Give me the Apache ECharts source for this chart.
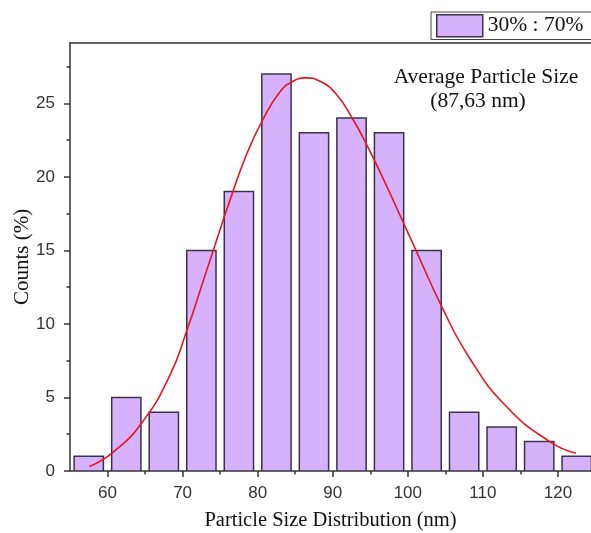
<!DOCTYPE html>
<html>
<head>
<meta charset="utf-8">
<script src="https://cdn.jsdelivr.net/npm/echarts@6/dist/echarts.min.js"></script>
<style>
html,body{margin:0;padding:0;background:#fff;}
#chart{width:591px;height:533px;}
</style>
</head>
<body>
<div id="chart"></div>
<script>
// ---- data ----
const xTicks = [60, 70, 80, 90, 100, 110, 120];
const xMinorTicks = [65, 75, 85, 95, 105, 115];
const yTicks = [0, 5, 10, 15, 20, 25];
const yMinorTicks = [2.5, 7.5, 12.5, 17.5, 22.5, 27.5];
const binCenters = [57.5, 62.5, 67.5, 72.5, 77.5, 82.5, 87.5, 92.5, 97.5, 102.5, 107.5, 112.5, 117.5, 122.5];
const counts = [1, 5, 4, 15, 19, 27, 23, 24, 23, 15, 4, 3, 2, 1];
const fitX = [57.6, 60.8, 64.6, 68.3, 70.6, 72.8, 74.6, 76.3, 78.5, 80.7, 83.0, 84.7, 86.3, 88.3, 90.5, 92.7, 94.5, 96.7, 98.5, 101.0, 104.5, 108.2, 113.1, 118.9, 122.4];
const fitY = [0.3, 1.3, 3.3, 6.5, 9.6, 13.0, 15.8, 18.4, 21.5, 23.9, 25.8, 26.5, 26.73, 26.5, 25.6, 23.9, 22.2, 19.9, 17.9, 15.1, 11.2, 7.7, 4.4, 2.0, 1.2];
const legendName = '30% : 70%';
const noteLine1 = 'Average Particle Size';
const noteLine2 = '(87,63 nm)';
const xTitle = 'Particle Size Distribution (nm)';
const yTitle = 'Counts (%)';

// ---- styles ----
const BAR_HALF = 1.95;
const barFill = '#d6b2fd';
const barStroke = '#3a3348';
const axisColor = '#333333';
const serif = '"Liberation Serif", "Times New Roman", serif';
const sans = '"Liberation Sans", Arial, sans-serif';
const X_MIN = 55, X_MAX = 124.4, Y_MIN = 0, Y_MAX = 29.1;

const barData = binCenters.map((c, i) => [c, counts[i]]);
const fitData = fitX.map((x, i) => [x, fitY[i]]);

const gridPos = {left: 70, right: 0, top: 43, bottom: 62, containLabel: false, outerBoundsMode: 'none'};

const chart = echarts.init(document.getElementById('chart'), null, {renderer: 'canvas'});
chart.setOption({
  animation: false,
  backgroundColor: '#ffffff',
  grid: [Object.assign({}, gridPos), Object.assign({}, gridPos)],
  legend: {
    left: 431, top: 12,
    orient: 'horizontal',
    data: [{name: legendName, icon: 'rect', itemStyle: {color: barFill, borderColor: barStroke, borderWidth: 1.5}}],
    itemWidth: 46, itemHeight: 22,
    padding: [2, 12, 2, 5],
    borderColor: '#444', borderWidth: 1,
    textStyle: {fontFamily: serif, fontSize: 21.5, color: '#111', lineHeight: 22}
  },
  graphic: [
    {type: 'text', x: 486, y: 77, style: {text: noteLine1, font: '21.5px ' + serif, fill: '#111', textAlign: 'center', textVerticalAlign: 'middle'}},
    {type: 'text', x: 478, y: 101, style: {text: noteLine2, font: '21.5px ' + serif, fill: '#111', textAlign: 'center', textVerticalAlign: 'middle'}}
  ],
  xAxis: [
    {
      gridIndex: 0, type: 'value', position: 'bottom', min: X_MIN, max: X_MAX,
      name: xTitle, nameLocation: 'middle', nameGap: 39, nameMoveOverlap: false,
      nameTextStyle: {fontFamily: serif, fontSize: 20.5, color: '#111'},
      axisLine: {show: true, onZero: false, lineStyle: {color: axisColor, width: 1.5}},
      axisTick: {show: true, length: 6, customValues: xTicks, lineStyle: {color: axisColor, width: 1.5}},
      axisLabel: {show: true, customValues: xTicks, margin: 14, fontFamily: sans, fontSize: 17, color: '#333'},
      splitLine: {show: false}
    },
    {
      gridIndex: 0, type: 'value', position: 'top', min: X_MIN, max: X_MAX,
      axisLine: {show: true, onZero: false, lineStyle: {color: axisColor, width: 1.5}},
      axisTick: {show: false}, axisLabel: {show: false}, splitLine: {show: false}
    },
    {
      gridIndex: 1, type: 'value', position: 'bottom', min: X_MIN, max: X_MAX,
      axisLine: {show: false, onZero: false},
      axisTick: {show: true, length: 3.5, customValues: xMinorTicks, lineStyle: {color: axisColor, width: 1.5}},
      axisLabel: {show: false}, splitLine: {show: false}
    }
  ],
  yAxis: [
    {
      gridIndex: 0, type: 'value', position: 'left', min: Y_MIN, max: Y_MAX,
      name: yTitle, nameLocation: 'middle', nameGap: 37, nameRotate: 90, nameMoveOverlap: false,
      nameTextStyle: {fontFamily: serif, fontSize: 21, color: '#111'},
      axisLine: {show: true, onZero: false, lineStyle: {color: axisColor, width: 1.5}},
      axisTick: {show: true, length: 6, customValues: yTicks, lineStyle: {color: axisColor, width: 1.5}},
      axisLabel: {show: true, customValues: yTicks, margin: 15, fontFamily: sans, fontSize: 17, color: '#333'},
      splitLine: {show: false}
    },
    {
      gridIndex: 1, type: 'value', position: 'left', min: Y_MIN, max: Y_MAX,
      axisLine: {show: false, onZero: false},
      axisTick: {show: true, length: 3.5, customValues: yMinorTicks, lineStyle: {color: axisColor, width: 1.5}},
      axisLabel: {show: false}, splitLine: {show: false}
    }
  ],
  series: [
    {
      name: legendName,
      type: 'custom',
      xAxisIndex: 0, yAxisIndex: 0,
      itemStyle: {color: barFill, borderColor: barStroke, borderWidth: 1.5},
      data: barData,
      encode: {x: 0, y: 1},
      clip: true,
      renderItem: function (params, api) {
        const c = api.value(0), v = api.value(1);
        const p1 = api.coord([c - BAR_HALF, v]);
        const p2 = api.coord([c + BAR_HALF, 0]);
        return {
          type: 'rect',
          shape: {x: p1[0], y: p1[1], width: p2[0] - p1[0], height: p2[1] - p1[1]},
          style: {fill: barFill, stroke: barStroke, lineWidth: 1.5}
        };
      }
    },
    {
      name: 'fit',
      type: 'line',
      xAxisIndex: 0, yAxisIndex: 0,
      data: fitData,
      smooth: 0.5,
      showSymbol: false,
      symbol: 'none',
      lineStyle: {color: '#e8151f', width: 1.6},
      z: 5
    }
  ]
});
</script>
</body>
</html>
